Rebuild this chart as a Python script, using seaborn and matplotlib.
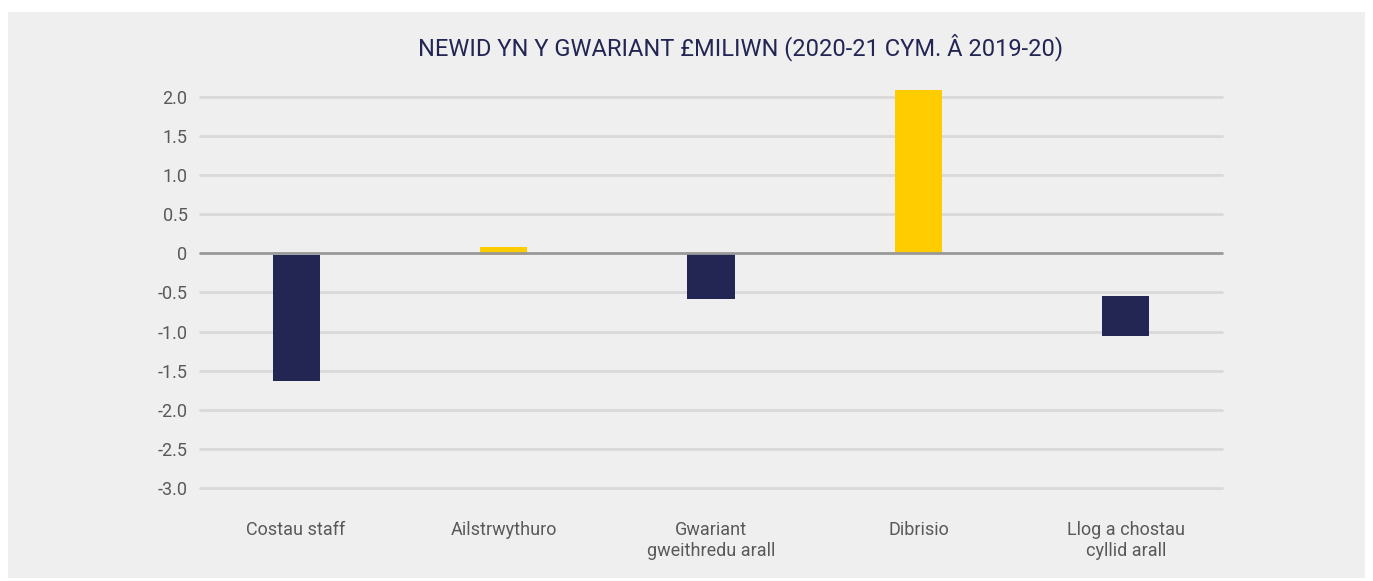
import matplotlib
matplotlib.use("Agg")
import matplotlib.pyplot as plt
from matplotlib.patches import Rectangle
import seaborn as sns
import numpy as np

# Data
categories = ["Costau staff", "Ailstrwythuro", "Gwariant\ngweithredu arall", "Dibrisio", "Llog a chostau\ncyllid arall"]
bar_start = [-0.02, -0.02, 0.0, 0.0, -0.55]
bar_end = [-1.63, 0.08, -0.58, 2.09, -1.06]
bar_colors = ["#232553", "#FFCC00", "#232553", "#FFCC00", "#232553"]
yticks = [-3.0, -2.5, -2.0, -1.5, -1.0, -0.5, 0.0, 0.5, 1.0, 1.5, 2.0]
title = "NEWID YN Y GWARIANT £MILIWN (2020-21 CYM. Â 2019-20)"

sns.set_theme(style="white")
plt.rcParams["font.family"] = ["Roboto", "DejaVu Sans"]

fig = plt.figure(figsize=(13.73, 5.81), dpi=100, facecolor="white")
fig.patches.append(Rectangle((8 / 1373, 1 - 578 / 581), (1365 - 8) / 1373, (578 - 12) / 581,
                             transform=fig.transFigure, facecolor="#EFEFEF", edgecolor="none", zorder=-10))

ax = fig.add_axes([200 / 1373, 1 - 488 / 581, (1222 - 200) / 1373, (488 - 87.6) / 581])
ax.set_facecolor("none")
ax.set_zorder(5)

heights = [e - s for s, e in zip(bar_start, bar_end)]
sns.barplot(x=categories, y=heights, bottom=bar_start, ax=ax, width=0.227, errorbar=None,
            color=bar_colors[0], saturation=1, zorder=3)
for p, c in zip(ax.patches, bar_colors):
    p.set_facecolor(c)
    p.set_edgecolor("none")

ax.set_ylim(-3.0, 2.12)
ax.set_xlim(-0.463, len(categories) - 1 + 0.463)
ax.set_yticks(yticks)
ax.set_yticklabels(["0" if v == 0 else f"{v:.1f}" for v in yticks])
for v in yticks:
    if v == 0:
        ax.axhline(v, color="#999999", lw=2, zorder=4, clip_on=False)
    else:
        ax.axhline(v, color="#D9D9D9", lw=2, zorder=1, clip_on=False)

for s in ax.spines.values():
    s.set_visible(False)
ax.tick_params(axis="y", length=0, pad=9, labelsize=13, labelcolor="#595959")
ax.tick_params(axis="x", length=0, pad=24, labelsize=13, labelcolor="#595959")
ax.set_xlabel("")
ax.set_ylabel("")

fig.text(741 / 1373, 1 - 47 / 581, title, ha="center", va="center", fontsize=17, color="#232553")

fig.savefig("out.png", dpi=100, facecolor="white")
